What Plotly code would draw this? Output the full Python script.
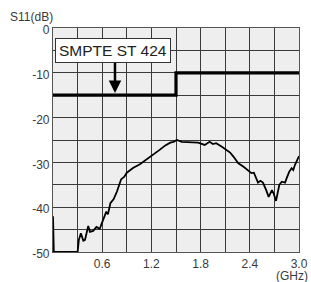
import plotly.graph_objects as go

# Measured return loss (S11) vs frequency
freq_ghz = [0.0, 0.01, 0.30, 0.315, 0.34, 0.37, 0.39, 0.43, 0.45, 0.49, 0.53, 0.57,
            0.61, 0.65, 0.67, 0.70, 0.74, 0.78, 0.83, 0.87, 0.90, 0.98, 1.06, 1.14,
            1.22, 1.30, 1.37, 1.43, 1.47, 1.51, 1.57, 1.65, 1.77, 1.85, 1.91, 1.95,
            1.99, 2.06, 2.12, 2.16, 2.20, 2.26, 2.32, 2.38, 2.42, 2.45, 2.48, 2.50,
            2.53, 2.56, 2.60, 2.63, 2.67, 2.69, 2.72, 2.74, 2.76, 2.79, 2.83, 2.85,
            2.88, 2.91, 2.93, 2.95, 2.98, 3.0]
s11_db = [-42.0, -50.0, -50.0, -47.3, -45.8, -47.5, -47.3, -44.2, -45.5, -45.3, -44.4, -44.8,
          -42.9, -41.0, -41.6, -39.1, -38.2, -36.5, -33.8, -33.2, -32.3, -31.2, -30.4, -29.4,
          -28.3, -27.2, -26.2, -25.6, -25.4, -25.0, -25.4, -25.5, -25.6, -26.1, -25.4, -25.9,
          -25.7, -26.5, -27.2, -27.8, -28.7, -30.2, -30.9, -31.9, -32.4, -32.3, -33.9, -34.5,
          -34.1, -34.5, -36.2, -37.7, -36.2, -36.9, -38.6, -36.9, -35.0, -34.3, -34.5, -33.5,
          -32.1, -31.3, -31.7, -30.6, -29.5, -28.6]

# SMPTE ST 424 limit mask
spec_freq = [0.0, 1.5, 1.5, 3.0]
spec_db = [-15, -15, -10, -10]

x_tickvals = [0.0, 0.3, 0.6, 0.9, 1.2, 1.5, 1.8, 2.1, 2.4, 2.7, 3.0]
x_ticktext = ["", "", "0.6", "", "1.2", "", "1.8", "", "2.4", "", "3.0"]
y_tickvals = [-50, -45, -40, -35, -30, -25, -20, -15, -10, -5, 0]
y_ticktext = ["-50", "", "-40", "", "-30", "", "-20", "", "-10", "", "0"]

font_family = "Liberation Sans, Arial, sans-serif"
text_color = "#3a3a3a"

fig = go.Figure()
fig.add_trace(go.Scatter(x=spec_freq, y=spec_db, mode="lines",
                         line=dict(color="black", width=3.2), hoverinfo="skip"))
fig.add_trace(go.Scatter(x=freq_ghz, y=s11_db, mode="lines",
                         line=dict(color="black", width=1.8), hoverinfo="skip"))

fig.update_layout(
    width=311, height=282,
    margin=dict(l=53, r=12, t=28, b=30, autoexpand=False),
    paper_bgcolor="white", plot_bgcolor="#eeeeee",
    showlegend=False,
    font=dict(family=font_family, size=12, color=text_color),
    xaxis=dict(range=[0, 3.0], tickvals=x_tickvals, ticktext=x_ticktext,
               showgrid=True, gridcolor="#3a3a3a", gridwidth=1.2,
               showline=True, linecolor="#555555", linewidth=1.2, mirror=True,
               ticks="", zeroline=False, fixedrange=True, automargin=False),
    yaxis=dict(range=[-50, 0], tickvals=y_tickvals, ticktext=y_ticktext,
               showgrid=True, gridcolor="#3a3a3a", gridwidth=1.2,
               showline=True, linecolor="#555555", linewidth=1.2, mirror=True,
               ticks="", zeroline=False, fixedrange=True, automargin=False,
               ticklabelshift=2),
    annotations=[
        dict(text="SMPTE ST 424", x=0.735, y=-5.0, xref="x", yref="y",
             showarrow=False, font=dict(size=15.5, color="#222222", family=font_family),
             bgcolor="white", bordercolor="#333333", borderwidth=1, borderpad=3),
        dict(text="", x=0.756, y=-14.5, ax=0.756, ay=-7.4, xref="x", yref="y",
             axref="x", ayref="y", showarrow=True, arrowhead=2, arrowsize=1,
             arrowwidth=2.5, arrowcolor="black"),
        dict(text="S11(dB)", x=-0.183, y=1.05, xref="paper", yref="paper",
             xanchor="left", yanchor="middle", showarrow=False,
             font=dict(size=12, color=text_color)),
        dict(text="(GHz)", x=1.045, y=-0.105, xref="paper", yref="paper",
             xanchor="right", yanchor="middle", showarrow=False,
             font=dict(size=12, color=text_color)),
    ],
)

# remove the default page margin so the figure sits at the window's top-left corner
fig.write_html("out.html",
               config={"displayModeBar": False},
               post_script="document.body.style.margin='0';"
                           "document.body.style.overflow='hidden';")
